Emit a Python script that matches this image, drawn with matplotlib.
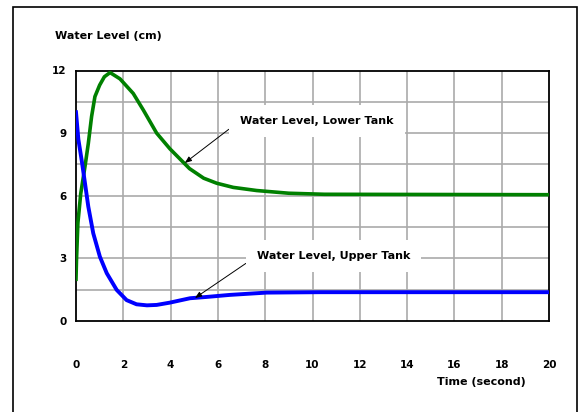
import matplotlib

matplotlib.use("Agg")
import matplotlib.pyplot as plt
from matplotlib.patches import Rectangle

# time (s) and water level (cm) read for the two tanks
lower_t = [0, 0.02, 0.08, 0.2, 0.38, 0.52, 0.66, 0.8, 1.0, 1.2, 1.44, 1.86,
           2.42, 2.85, 3.41, 3.97, 4.8, 5.4, 5.95, 6.65, 7.64, 9.0, 10.5, 20]
lower_level = [2.0, 2.9, 4.7, 6.1, 7.4, 8.5, 9.8, 10.75, 11.3, 11.7, 11.9, 11.6,
               10.9, 10.1, 9.0, 8.25, 7.3, 6.84, 6.6, 6.4, 6.25, 6.12, 6.07, 6.05]

upper_t = [0, 0.1, 0.24, 0.38, 0.52, 0.73, 1.01, 1.3, 1.72, 2.14, 2.56, 3.0,
           3.41, 3.97, 4.82, 5.5, 6.5, 8.06, 10.3, 20]
upper_level = [10.0, 8.7, 7.7, 6.6, 5.48, 4.2, 3.08, 2.29, 1.49, 1.0, 0.8, 0.75,
               0.77, 0.88, 1.09, 1.15, 1.25, 1.36, 1.38, 1.38]

x_ticks = [0, 2, 4, 6, 8, 10, 12, 14, 16, 18, 20]
y_ticks = [0, 3, 6, 9, 12]
y_grid = [1.5, 3, 4.5, 6, 7.5, 9, 10.5]

plt.rcParams["font.family"] = "DejaVu Sans"
fig = plt.figure(figsize=(5.8, 4.12), dpi=100)
fig.patch.set_facecolor("white")

# outer frame around the whole chart
fig.patches.append(
    Rectangle((13 / 580, -0.05), 564 / 580, 1.05 - 7 / 412, transform=fig.transFigure,
              fill=False, edgecolor="black", linewidth=1.2)
)

ax = fig.add_axes([76 / 580, 1 - 321 / 412, 473 / 580, 250.5 / 412])
ax.set_xlim(0, 20)
ax.set_ylim(0, 12)

for gx in x_ticks[1:-1]:
    ax.axvline(gx, color="#aaaaaa", linewidth=1.2, zorder=1)
for gy in y_grid:
    ax.axhline(gy, color="#aaaaaa", linewidth=1.2, zorder=1)

ax.plot(lower_t, lower_level, color="#008000", linewidth=2.6, zorder=3)
ax.plot(upper_t, upper_level, color="#0000ff", linewidth=2.8, zorder=3)

ax.set_xticks(x_ticks)
ax.set_yticks(y_ticks)
ax.tick_params(length=0, labelsize=7.5)
ax.tick_params(axis="x", pad=28)
ax.tick_params(axis="y", pad=7)
for lbl in ax.get_xticklabels() + ax.get_yticklabels():
    lbl.set_fontweight("bold")
for sp in ax.spines.values():
    sp.set_linewidth(1.3)

box = dict(boxstyle="square,pad=1.0", facecolor="white", edgecolor="none")
arrow = dict(arrowstyle="-|>,head_length=0.5,head_width=0.2", color="black",
             linewidth=0.7, shrinkA=0, shrinkB=0, relpos=(0, 0.5))
ax.annotate("Water Level, Lower Tank", xy=(4.6, 7.57), xytext=(6.93, 9.59),
            ha="left", va="center", fontsize=8, fontweight="bold",
            bbox=box, arrowprops=arrow, zorder=4)
ax.annotate("Water Level, Upper Tank", xy=(5.03, 1.1), xytext=(7.65, 3.12),
            ha="left", va="center", fontsize=8, fontweight="bold",
            bbox=box, arrowprops=arrow, zorder=4)

fig.text(55 / 580, 1 - 36 / 412, "Water Level (cm)", ha="left", va="center",
         fontsize=8, fontweight="bold")
fig.text(481 / 580, 1 - 382 / 412, "Time (second)", ha="center", va="center",
         fontsize=8, fontweight="bold")

fig.savefig("out.png", dpi=100)
